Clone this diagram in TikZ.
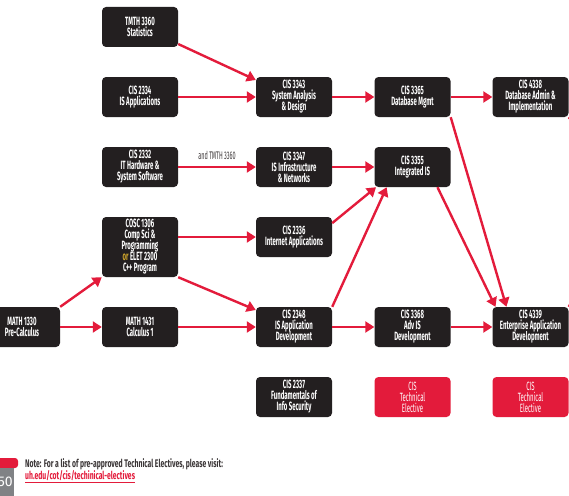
\documentclass[tikz,border=0pt]{standalone}
\usepackage{fontspec}
\setmainfont{Fira Sans}
\newfontfamily\gothic{Fira Sans}[FakeStretch=0.5]
\newfontfamily\notefont{Fira Sans}[FakeStretch=0.62]
\newcommand\coursefont{\gothic\fontsize{12}{11}\selectfont\lineskiplimit=-20pt\relax}
\usetikzlibrary{arrows.meta}
\definecolor{uhred}{HTML}{E31B3B}
\definecolor{uhblack}{HTML}{231F20}
\definecolor{uhgold}{HTML}{D1A72C}
\definecolor{uhgray}{HTML}{808285}
\definecolor{notegray}{HTML}{3A3536}
\tikzset{
  course/.style={fill=uhblack,text=white,rounded corners=4pt,minimum width=76pt,minimum height=40pt,
    inner sep=0pt,align=center,font=\coursefont\bfseries},
  elective/.style={course,fill=uhred,font=\coursefont},
  link/.style={draw=uhred,line width=2.4pt,-{Triangle[length=9pt,width=11pt]}},
  stub/.style={draw=uhred,line width=2.4pt}
}
\begin{document}
\begin{tikzpicture}[x=1pt,y=-1pt]
\useasboundingbox (0,0) rectangle (569,495);
\node[course] (math1330) at (22,327) {MATH 1330\\Pre-Calculus};
\node[course] (tmth3360) at (140,27) {TMTH 3360\\Statistics};
\node[course] (cis2334) at (140,97) {CIS 2334\\IS Applications};
\node[course] (cis2332) at (140,167) {CIS 2332\\IT Hardware \&\\System Software};
\node[course,minimum height=60pt] (cosc1306) at (140,247) {COSC 1306\\Comp Sci \&\\Programming\\{\color{uhgold}or} ELET 2300\\C++ Program};
\node[course] (math1431) at (140,327) {MATH 1431\\Calculus 1};
\node[course] (cis3343) at (294,97) {CIS 3343\\System Analysis\\\& Design};
\node[course] (cis3347) at (294,167) {CIS 3347\\IS Infrastructure\\\& Networks};
\node[course] (cis2336) at (294,237) {CIS 2336\\Internet Applications};
\node[course] (cis2348) at (294,327) {CIS 2348\\IS Application\\Development};
\node[course] (cis2337) at (294,397) {CIS 2337\\Fundamentals of\\Info Security};
\node[course] (cis3365) at (412.5,97) {CIS 3365\\Database Mgmt};
\node[course] (cis3355) at (412.5,167) {CIS 3355\\Integrated IS};
\node[course] (cis3368) at (412.5,327) {CIS 3368\\Adv IS\\Development};
\node[elective] (elective1) at (412.5,397) {CIS\\Technical\\Elective};
\node[course] (cis4338) at (530.5,97) {CIS 4338\\Database Admin \&\\Implementation};
\node[course] (cis4339) at (530.5,327) {CIS 4339\\Enterprise Application\\Development};
\node[elective] (elective2) at (530.5,397) {CIS\\Technical\\Elective};
\coordinate (offtop) at (578,128);
\coordinate (offbot) at (578,292);
\draw[link] (tmth3360.336) -- (cis3343.156);
\draw[link] (cis2334.east) -- (cis3343.west);
\draw[link] (cis2332.east) -- (cis3347.west)
  node[midway,above=3pt,text=notegray,font=\gothic\fontsize{11}{11}\selectfont] (andtmth) {and TMTH 3360};
\draw[link] (cis3343.east) -- (cis3365.west);
\draw[link] (cis3365.east) -- (cis4338.west);
\draw[link] (cis3347.east) -- (cis3355.west);
\draw[link] (cis2336.20) -- (cis3355.209);
\draw[link] (cis2348.north east) -- (cis3355.218);
\draw[link] (cis3355.321) -- (cis4339.150);
\draw[link] (cis3365.south east) -- (cis4339.140);
\draw[link] (cosc1306.east |- cis2336.west) -- (cis2336.west);
\draw[link] (cosc1306.south east) -- (cis2348.156);
\draw[link] (math1330.north east) -- (cosc1306.south west);
\draw[link] (math1330.east) -- (math1431.west);
\draw[link] (math1431.east) -- (cis2348.west);
\draw[link] (cis2348.east) -- (cis3368.west);
\draw[link] (cis3368.east) -- (cis4339.west);
\draw[stub] (cis4338.south east) -- (offtop);
\draw[stub] (offbot) -- (cis4339.north east);
\fill[uhred,rounded corners=3pt] (-6,458) rectangle (18,468);
\fill[uhgray] (-6,467.5) rectangle (14,500);
\node[anchor=east,text=white,inner sep=0pt,font=\fontsize{14}{14}\selectfont] (pagenum) at (13,482) {50};
\node[anchor=north west,inner sep=0pt,align=left,text=notegray,font=\notefont\bfseries\fontsize{11}{12}\selectfont] (note) at (25,458)
  {Note: For a list of pre-approved Technical Electives, please visit:\\
   {\color{uhred}\underline{uh.edu/cot/cis/techinical-electives}}};
\end{tikzpicture}
\end{document}
